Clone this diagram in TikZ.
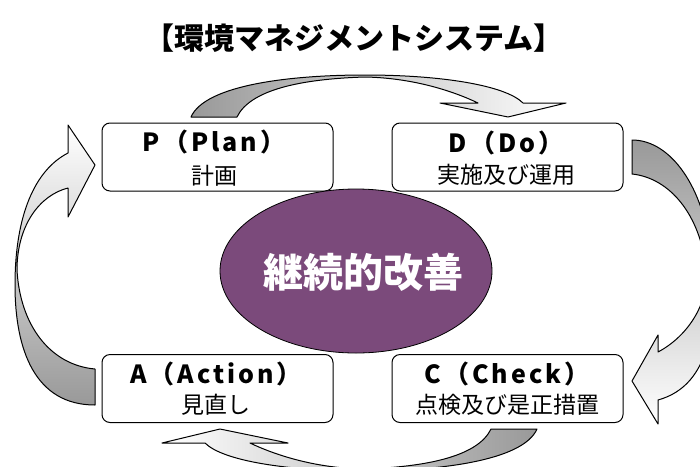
\documentclass[tikz,border=0pt]{standalone}
\usepackage{fontspec}
\newfontfamily\jp{Noto Sans CJK JP}
\newfontfamily\jpls[LetterSpace=12]{Noto Sans CJK JP}
\usetikzlibrary{shapes.geometric}
\definecolor{ellfill}{RGB}{123,74,123}
\begin{document}
\begin{tikzpicture}[x=1pt,y=-1pt,
  box/.style={draw=black, line width=1pt, rounded corners=8pt, fill=white,
    minimum width=231pt, minimum height=68pt, inner sep=0pt},
  arr/.style={draw=black, line width=1pt, line join=round},
  hd/.style={font=\jpls\bfseries\fontsize{25}{29}\selectfont, inner sep=0pt},
  jt/.style={font=\jp\fontsize{23}{27}\selectfont, inner sep=0pt}]
\path[use as bounding box] (0,0) rectangle (700,466);
\node[font=\jp\bfseries\fontsize{30}{35}\selectfont, inner sep=0pt] (title) at (354,38) {【環境マネジメントシステム】};
\begin{scope}
\clip (0,0) rectangle (700,466);
% top arrow P -> D
\path[arr, left color=black!40, middle color=black!5, right color=white]
  (191,117) .. controls (205,85) and (290,75) .. (365,75)
  .. controls (440,75) and (505,85) .. (523,103) -- (566,103) -- (508,117)
  -- (440,103) -- (478,103) .. controls (455,92) and (415,78) .. (365,77)
  .. controls (300,79) and (250,90) .. (237,117) -- cycle;
% right arrow D -> C
\path[arr, top color=black!40, middle color=black!5, bottom color=white]
  (632,140) .. controls (672,140) and (704,190) .. (710,250)
  .. controls (718,320) and (712,385) .. (658,400) -- (658,424) -- (632,381)
  -- (658,335) -- (658,352) .. controls (690,335) and (710,300) .. (706,268)
  .. controls (700,215) and (670,178) .. (632,174) -- cycle;
% bottom arrow C -> A
\path[arr, right color=black!40, middle color=black!5, left color=white]
  (537,429) .. controls (523,461) and (438,471) .. (363,471)
  .. controls (288,471) and (223,461) .. (205,443) -- (162,443) -- (220,429)
  -- (288,443) -- (250,443) .. controls (273,454) and (313,468) .. (363,469)
  .. controls (428,467) and (478,456) .. (491,429) -- cycle;
% left arrow A -> P
\path[arr, bottom color=black!40, middle color=black!5, top color=white]
  (95,405) .. controls (35,405) and (15,350) .. (15,285)
  .. controls (15,215) and (35,170) .. (68,153) -- (68,125) -- (95,165)
  -- (68,217) -- (68,188) .. controls (40,195) and (17,225) .. (17,270)
  .. controls (20,325) and (50,365) .. (95,369) -- cycle;
\end{scope}
\node[box] (P) at (217.5,157) {};
\node[box] (D) at (507.5,157) {};
\node[box] (A) at (217.5,388.5) {};
\node[box] (C) at (507.5,388.5) {};
\node[ellipse, draw=black, line width=0.8pt, fill=ellfill, minimum width=272pt,
  minimum height=164pt, inner sep=0pt] (E) at (356,271) {};
\node[font=\jp\bfseries\fontsize{40}{44}\selectfont, text=white, inner sep=0pt] (Et) at (363,272) {継続的改善};
\node[hd] (Ph) at (214,142) {P（Plan）};
\node[jt] (Pj) at (214,176) {計画};
\node[hd] (Dh) at (506,143) {D（Do）};
\node[jt] (Dj) at (506,175) {実施及び運用};
\node[hd] (Ah) at (216,374) {A（Action）};
\node[jt] (Aj) at (216,405) {見直し};
\node[hd] (Ch) at (507,374) {C（Check）};
\node[jt] (Cj) at (507,405) {点検及び是正措置};
\end{tikzpicture}
\end{document}
